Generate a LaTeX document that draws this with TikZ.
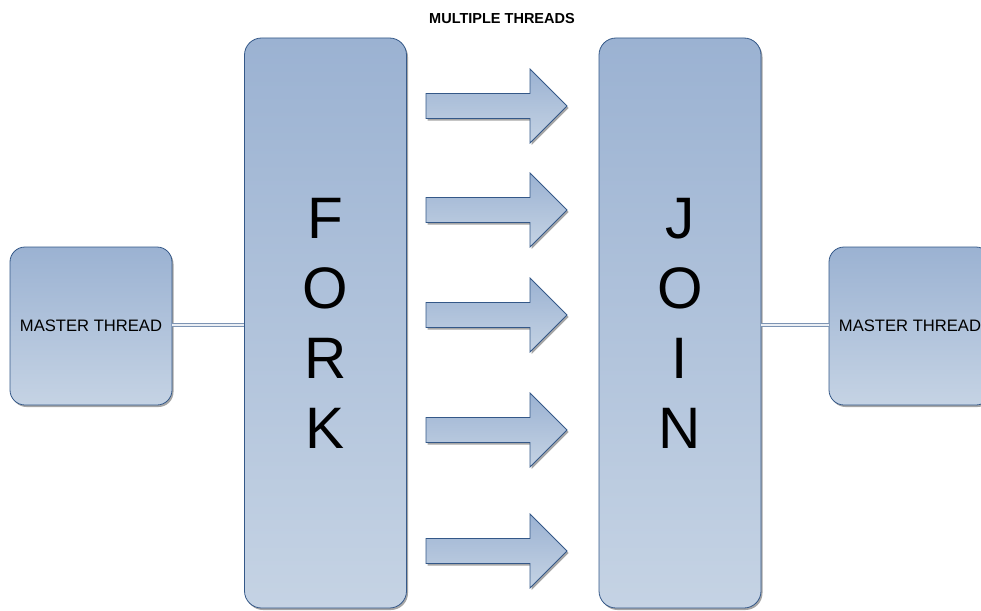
\documentclass[tikz,border=0pt]{standalone}
\usepackage{fontspec}
\setmainfont{Liberation Sans}
\usetikzlibrary{shadows}
\definecolor{boxtop}{RGB}{155,178,210}
\definecolor{boxbot}{RGB}{197,211,228}
\definecolor{edgecol}{RGB}{52,88,136}
\definecolor{conncol}{RGB}{125,148,180}
\tikzset{
  shadowed/.style={drop shadow={shadow xshift=1.5pt,shadow yshift=-2pt,fill=black,opacity=0.35}},
  gradbox/.style={draw=edgecol,line width=0.8pt,top color=boxtop,bottom color=boxbot,shadowed,rectangle,inner sep=0pt},
  masterbox/.style={gradbox,minimum width=162pt,minimum height=158pt,rounded corners=15pt,font=\fontsize{16.6}{20}\selectfont},
  tallbox/.style={gradbox,minimum width=162pt,minimum height=570pt,rounded corners=17pt,align=center,font=\fontsize{58.5}{70}\selectfont},
  fatarrow/.style={draw=edgecol,line width=0.8pt,top color=boxtop,bottom color=boxbot,shadowed,line join=miter},
  conn/.style={draw=conncol,line width=1pt,double=white!85!conncol,double distance=1.8pt},
  titletext/.style={font=\fontsize{14.5}{17}\selectfont\bfseries}
}
\begin{document}
\begin{tikzpicture}[x=1pt,y=-1pt]
\useasboundingbox (0,0) rectangle (981,610);
\clip (0,0) rectangle (981,610);
\node[titletext] (title) at (502,18.5) {MULTIPLE THREADS};
\node[masterbox] (lm) at (91,326) {MASTER THREAD};
\node[masterbox] (rm) at (910,326) {MASTER THREAD};
\node[tallbox] (fork) at (325.5,323) {F\\O\\R\\K};
\node[tallbox] (join) at (680,323) {J\\O\\I\\N};
\draw[conn] (lm.east |- 0,325) -- (fork.west |- 0,325);
\draw[conn] (join.east |- 0,325) -- (rm.west |- 0,325);
\foreach \c in {106,210,315,430,551}{
  \path[fatarrow] (426,\c-12.5) -- (530,\c-12.5) -- (530,\c-37) -- (567,\c) -- (530,\c+37) -- (530,\c+12.5) -- (426,\c+12.5) -- cycle;
}
\end{tikzpicture}
\end{document}
